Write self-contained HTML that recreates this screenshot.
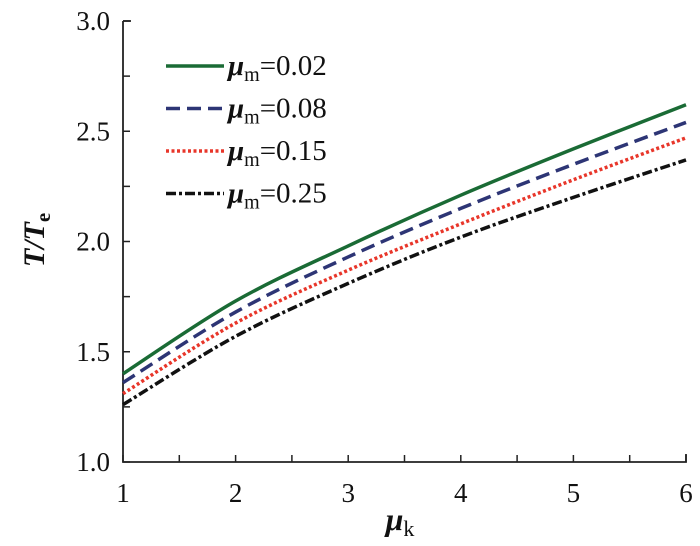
<!DOCTYPE html>
<html><head><meta charset="utf-8"><style>
body{margin:0;background:#fff}
svg text{font-family:"Liberation Serif",serif;fill:#111}
</style></head><body>
<svg width="700" height="541" viewBox="0 0 700 541">
<g id="axes"></g><g id="series"></g><g id="legend"></g>
<text x="44" y="240" font-size="30" font-weight="bold" font-style="italic" text-anchor="middle" transform="rotate(-90 44 240)">T/T<tspan font-size="21" font-style="normal" dy="6">e</tspan></text>
<text x="400" y="530" font-size="32" font-weight="bold" font-style="italic" text-anchor="middle">μ<tspan font-size="22" font-style="normal" font-weight="normal" dy="6">k</tspan></text>
</svg>
<script>
const xCats=[1,2,3,4,5,6];
const s002=[1.40,1.73,1.98,2.21,2.42,2.62];
const s008=[1.36,1.68,1.93,2.15,2.35,2.54];
const s015=[1.31,1.63,1.87,2.08,2.28,2.47];
const s025=[1.26,1.57,1.81,2.02,2.20,2.37];
const seriesNames=["0.02","0.08","0.15","0.25"];
const yTicks=[1.0,1.5,2.0,2.5,3.0];
const xTicks=[1,2,3,4,5,6];
const NS="http://www.w3.org/2000/svg";
const X=v=>123+(v-1)*(686-123)/5;
const Y=v=>462-(v-1)*(462-21)/2;
function mk(t,a,p){const e=document.createElementNS(NS,t);for(const k in a)e.setAttribute(k,a[k]);p.appendChild(e);return e;}
const ax=document.getElementById('axes');
let e=mk('path',{d:`M${X(1)} ${Y(3)}H${X(1)+8}M${X(1)} ${Y(3)}V${Y(1)}H${X(6)}V${Y(1)-8}`,stroke:'#222','stroke-width':1.8,fill:'none'},ax);

for(let v=1;v<=3.001;v+=0.25){const t=mk('line',{x1:X(1),x2:X(1)+7,y1:Y(v),y2:Y(v),stroke:'#222','stroke-width':1.5},ax);
}
for(let v=1;v<=6.001;v+=0.5){const t=mk('line',{x1:X(v),x2:X(v),y1:Y(1),y2:Y(1)-7,stroke:'#222','stroke-width':1.5},ax);
}
yTicks.forEach(v=>{const t=mk('text',{x:X(1)-13,y:Y(v)+9,'font-size':27,'text-anchor':'end'},ax);t.textContent=v.toFixed(1);
});
xTicks.forEach(v=>{const t=mk('text',{x:X(v),y:Y(1)+40,'font-size':27,'text-anchor':'middle'},ax);t.textContent=v;
});
const styles=[{c:'#1a6b35',d:''},{c:'#2d3575',d:'14 7'},{c:'#e8362a',d:'3 2.5'},{c:'#111',d:'10 3 3 3'}];
const data=[s002,s008,s015,s025];
const sg=document.getElementById('series'),lg=document.getElementById('legend');
data.forEach((arr,i)=>{
 const p=arr.map((v,j)=>[X(xCats[j]),Y(v)]);
 let d=`M${p[0][0]} ${p[0][1]}`;
 for(let j=0;j<p.length-1;j++){const p0=p[j-1]||p[j],p1=p[j],p2=p[j+1],p3=p[j+2]||p2;
  d+=`C${p1[0]+(p2[0]-p0[0])/6} ${p1[1]+(p2[1]-p0[1])/6} ${p2[0]-(p3[0]-p1[0])/6} ${p2[1]-(p3[1]-p1[1])/6} ${p2[0]} ${p2[1]}`;}
 const l=mk('path',{d,fill:'none',stroke:styles[i].c,'stroke-width':3.5,'stroke-dasharray':styles[i].d},sg);
 
 const ly=66+i*42.5;
 const ll=mk('line',{x1:166,x2:224,y1:ly,y2:ly,stroke:styles[i].c,'stroke-width':3.5,'stroke-dasharray':styles[i].d},lg);
 
 const t=mk('text',{x:228,y:ly+9,'font-size':29},lg);
 t.innerHTML=`<tspan font-weight="bold" font-style="italic">μ</tspan><tspan font-size="20" dy="6">m</tspan><tspan dy="-6">=${seriesNames[i]}</tspan>`;
 
});
</script>
</body></html>
